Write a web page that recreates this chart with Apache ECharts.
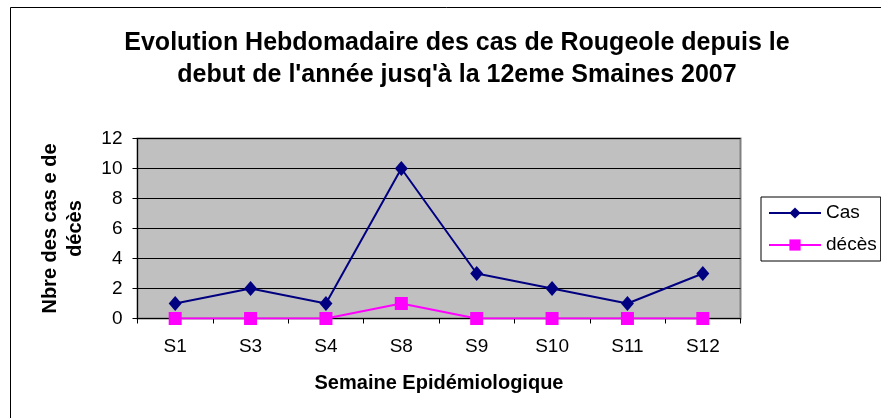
<!DOCTYPE html>
<html><head><meta charset="utf-8">
<script src="https://cdn.jsdelivr.net/npm/echarts@6/dist/echarts.min.js"></script>
<style>html,body{margin:0;padding:0;background:#fff}#c{width:881px;height:418px}</style>
</head><body><div id="c"></div>
<script>
const categories = ['S1','S3','S4','S8','S9','S10','S11','S12'];
const casValues = [1,2,1,10,3,2,1,3];
const decesValues = [0,0,0,1,0,0,0,0];
const yTicks = [0,2,4,6,8,10,12];

const chart = echarts.init(document.getElementById('c'), null, {renderer:'canvas'});
const font = 'Arial, "Liberation Sans", sans-serif';
chart.setOption({
  backgroundColor:'#fff',
  animation:false,
  graphic:[
    {type:'rect', shape:{x:10.5,y:7.5,width:880,height:420}, style:{fill:'none',stroke:'#000',lineWidth:1}, z:-1},
    {type:'rect', shape:{x:137.5,y:138.5,width:603,height:180}, style:{fill:'#c0c0c0',stroke:'#808080',lineWidth:2}, z:-1}
  ],
  title:{
    text:"Evolution Hebdomadaire des cas de Rougeole depuis le\ndebut de l'année jusq'à la 12eme Smaines 2007",
    left:452, top:22, textAlign:'center',
    textStyle:{fontFamily:font,fontSize:25,fontWeight:'bold',color:'#000',lineHeight:32}
  },
  legend:{
    orient:'vertical', left:761, top:197,
    borderColor:'#000', borderWidth:1, padding:[5,4,5,7], itemGap:10,
    itemWidth:52, itemHeight:14,
    textStyle:{fontFamily:font,fontSize:19,color:'#000',lineHeight:22},
    data:['Cas','décès']
  },
  grid:{left:137.5, top:138.5, width:603, height:180, containLabel:false},
  xAxis:{
    type:'category', data:categories, boundaryGap:true,
    name:'Semaine Epidémiologique', nameLocation:'middle', nameGap:55,
    nameTextStyle:{fontFamily:font,fontSize:20,fontWeight:'bold',color:'#000'},
    axisLine:{lineStyle:{color:'#000',width:1}},
    axisTick:{show:true,length:5,inside:false,lineStyle:{color:'#000'}},
    axisLabel:{fontFamily:font,fontSize:19,color:'#000',margin:19},
    splitLine:{show:false}
  },
  yAxis:{
    type:'value', min:0, max:12, interval:2,
    name:'Nbre des cas e de\ndécès', nameLocation:'middle', nameGap:50, nameRotate:90,
    nameTextStyle:{fontFamily:font,fontSize:20,fontWeight:'bold',color:'#000',lineHeight:25},
    axisLine:{show:true,lineStyle:{color:'#000',width:1}},
    axisTick:{show:true,length:5,lineStyle:{color:'#000'}},
    axisLabel:{fontFamily:font,fontSize:19,color:'#000',margin:15,
      formatter:v=>yTicks.includes(v)?String(v):''},
    splitLine:{show:true,lineStyle:{color:'#000',width:1}}
  },
  series:[
    {name:'Cas', type:'line', data:casValues, symbol:'diamond', symbolSize:[13,15],
     lineStyle:{color:'#000080',width:2}, itemStyle:{color:'#000080'}, z:3},
    {name:'décès', type:'line', data:decesValues, symbol:'rect', symbolSize:13,
     lineStyle:{color:'#ff00ff',width:2}, itemStyle:{color:'#ff00ff'}, z:4}
  ]
});
</script></body></html>
